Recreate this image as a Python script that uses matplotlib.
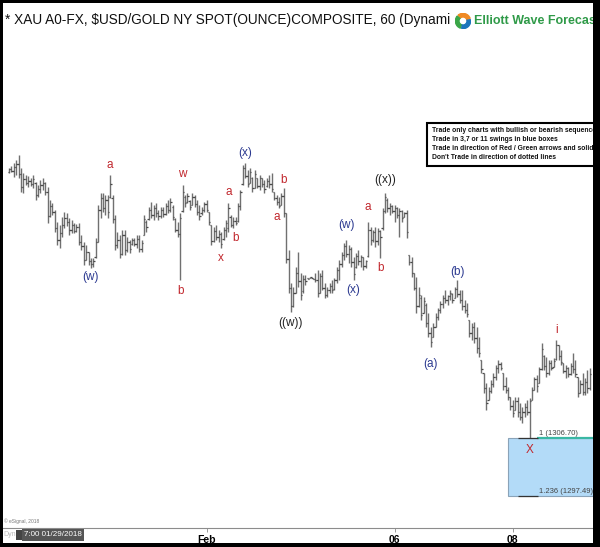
import matplotlib
matplotlib.use("Agg")
import matplotlib.pyplot as plt
from matplotlib.patches import Rectangle, Wedge
import numpy as np

plt.rcParams['font.family'] = ['Liberation Sans', 'DejaVu Sans']

# hourly XAU bars, 01/29/2018 07:00 onwards
highs = [
    1349.6, 1349.9, 1350.4, 1350.9, 1351.7, 1349.6, 1348.8, 1348.5, 1348.3, 1348.0,
    1348.5, 1347.4, 1346.9, 1347.7, 1348.0, 1347.4, 1346.6, 1344.5, 1344.0, 1342.9,
    1341.0, 1340.6, 1341.8, 1342.6, 1342.5, 1341.7, 1341.3, 1340.9, 1340.7, 1340.9,
    1338.9, 1337.9, 1337.4, 1336.3, 1335.3, 1335.3, 1338.5, 1343.7, 1345.6, 1345.6,
    1345.3, 1345.3, 1348.5, 1345.3, 1342.2, 1339.4, 1338.9, 1339.8, 1339.8, 1338.6,
    1338.2, 1338.5, 1338.5, 1338.9, 1338.9, 1338.2, 1342.2, 1341.3, 1343.4, 1344.2,
    1343.7, 1344.0, 1342.9, 1343.4, 1343.4, 1344.0, 1344.5, 1344.8, 1343.7, 1341.7,
    1341.0, 1342.5, 1346.9, 1345.3, 1345.6, 1344.5, 1345.6, 1345.3, 1344.5, 1343.7,
    1343.4, 1344.2, 1344.5, 1342.6, 1340.6, 1340.2, 1340.6, 1339.8, 1339.4, 1340.2,
    1341.3, 1344.0, 1342.2, 1341.8, 1341.8, 1344.0, 1346.1, 1350.1, 1350.4, 1349.3,
    1349.6, 1348.2, 1349.3, 1348.0, 1348.5, 1348.0, 1347.7, 1348.0, 1348.5, 1348.8,
    1345.8, 1345.3, 1345.0, 1345.6, 1346.4, 1342.5, 1336.6, 1331.3, 1330.7, 1333.9,
    1336.3, 1332.9, 1332.6, 1332.6, 1332.1, 1332.3, 1332.1, 1332.9, 1333.4, 1332.9,
    1333.4, 1331.3, 1330.7, 1331.3, 1331.8, 1332.1, 1333.9, 1335.0, 1336.3, 1337.7,
    1338.2, 1337.4, 1337.1, 1335.5, 1336.1, 1336.6, 1335.8, 1335.5, 1335.0, 1341.0,
    1340.2, 1339.8, 1340.2, 1340.1, 1339.8, 1343.3, 1345.6, 1344.8, 1344.0, 1343.7,
    1343.7, 1343.4, 1343.3, 1342.9, 1342.6, 1342.9, 1335.8, 1335.5, 1332.9, 1332.3,
    1330.7, 1329.4, 1329.1, 1328.2, 1326.6, 1324.3, 1324.9, 1326.6, 1327.4, 1328.4,
    1329.4, 1330.2, 1329.4, 1330.2, 1329.7, 1330.7, 1331.8, 1330.2, 1330.2, 1328.6,
    1328.2, 1325.4, 1324.9, 1325.1, 1324.3, 1322.7, 1319.1, 1317.0, 1315.4, 1314.8,
    1315.9, 1317.0, 1318.3, 1319.1, 1318.8, 1317.0, 1316.4, 1314.8, 1313.2, 1312.7,
    1313.2, 1313.2, 1312.2, 1311.6, 1312.2, 1312.7, 1313.1, 1314.8, 1316.4, 1316.7,
    1318.0, 1321.8, 1319.9, 1319.6, 1319.1, 1319.1, 1319.4, 1322.3, 1321.5, 1320.7,
    1318.6, 1318.3, 1318.0, 1318.6, 1320.2, 1319.1, 1316.4, 1315.9, 1317.0, 1316.2,
    1317.5, 1317.8,
]
lows = [
    1348.8, 1349.0, 1348.2, 1348.5, 1348.0, 1345.8, 1345.6, 1346.9, 1346.6, 1346.8,
    1346.4, 1344.5, 1345.0, 1345.6, 1346.1, 1345.3, 1340.9, 1341.8, 1342.2, 1339.4,
    1337.4, 1336.9, 1338.6, 1340.1, 1340.4, 1338.9, 1339.3, 1339.3, 1339.4, 1337.4,
    1336.6, 1334.2, 1335.0, 1334.2, 1333.7, 1333.9, 1335.3, 1337.9, 1341.7, 1342.6,
    1342.2, 1341.7, 1344.8, 1340.9, 1336.6, 1336.9, 1335.3, 1335.8, 1335.8, 1336.3,
    1336.1, 1337.4, 1337.2, 1336.9, 1336.3, 1336.3, 1338.9, 1339.4, 1341.3, 1341.7,
    1341.3, 1341.8, 1341.3, 1341.7, 1341.8, 1342.2, 1342.5, 1342.6, 1341.3, 1339.4,
    1338.6, 1331.8, 1342.6, 1343.4, 1344.0, 1342.9, 1343.7, 1343.4, 1342.2, 1341.3,
    1342.2, 1342.6, 1342.6, 1340.6, 1337.4, 1337.9, 1338.2, 1337.9, 1336.9, 1338.2,
    1338.6, 1339.4, 1340.2, 1340.1, 1340.6, 1341.0, 1342.9, 1346.9, 1348.0, 1346.6,
    1347.2, 1345.8, 1346.4, 1346.4, 1346.1, 1346.6, 1345.6, 1346.6, 1346.4, 1345.8,
    1344.5, 1343.7, 1343.3, 1343.7, 1341.8, 1334.5, 1329.7, 1326.7, 1327.5, 1329.7,
    1330.7, 1328.6, 1329.7, 1331.0, 1332.0, 1332.2, 1332.0, 1331.5, 1329.1, 1329.7,
    1330.2, 1328.9, 1329.1, 1329.7, 1329.7, 1330.2, 1331.3, 1331.8, 1333.9, 1335.0,
    1335.5, 1334.5, 1333.9, 1331.8, 1333.7, 1334.2, 1333.9, 1333.4, 1333.7, 1335.5,
    1337.4, 1337.9, 1337.1, 1337.4, 1335.3, 1339.8, 1342.5, 1342.6, 1342.2, 1342.5,
    1341.0, 1341.7, 1338.6, 1341.0, 1341.8, 1338.5, 1334.2, 1332.3, 1330.2, 1326.6,
    1327.5, 1325.4, 1326.6, 1324.3, 1322.7, 1321.2, 1322.7, 1324.3, 1325.4, 1326.6,
    1327.4, 1328.2, 1327.8, 1328.6, 1328.2, 1328.9, 1329.1, 1328.2, 1327.0, 1326.6,
    1325.9, 1322.7, 1322.3, 1321.8, 1320.2, 1319.6, 1317.0, 1313.8, 1311.1, 1312.7,
    1313.8, 1314.8, 1315.9, 1317.0, 1317.5, 1314.3, 1313.8, 1312.7, 1311.1, 1310.0,
    1311.1, 1310.0, 1309.5, 1309.0, 1310.0, 1310.3, 1306.7, 1312.7, 1314.3, 1314.0,
    1315.4, 1317.5, 1317.5, 1316.4, 1316.7, 1317.5, 1318.0, 1319.1, 1319.1, 1318.3,
    1317.0, 1316.2, 1316.4, 1316.7, 1317.0, 1316.4, 1313.2, 1313.8, 1313.5, 1313.5,
    1313.8, 1314.3,
]
opens = [
    1349.0, 1349.4, 1349.2, 1349.8, 1350.2, 1348.6, 1346.6, 1347.9, 1347.2, 1347.6,
    1347.0, 1347.2, 1345.3, 1346.3, 1346.9, 1347.2, 1345.8, 1342.0, 1343.6, 1342.6,
    1340.1, 1338.2, 1339.3, 1340.6, 1341.7, 1341.0, 1339.8, 1340.6, 1339.6, 1340.3,
    1337.9, 1337.2, 1335.0, 1336.3, 1334.8, 1334.3, 1335.5, 1337.9, 1343.0, 1344.8,
    1343.3, 1344.6, 1345.0, 1344.8, 1341.5, 1337.4, 1338.2, 1336.0, 1339.0, 1336.5,
    1337.9, 1337.6, 1338.1, 1337.5, 1338.4, 1336.8, 1339.0, 1341.0, 1341.5, 1342.9,
    1342.2, 1343.3, 1342.4, 1342.0, 1343.0, 1342.3, 1343.5, 1342.9, 1343.4, 1341.5,
    1339.8, 1339.2, 1342.8, 1345.0, 1344.2, 1344.4, 1343.8, 1345.0, 1343.9, 1342.7,
    1342.4, 1343.0, 1343.9, 1342.6, 1340.6, 1338.0, 1339.6, 1338.7, 1339.2, 1338.4,
    1339.8, 1340.0, 1341.8, 1340.6, 1341.2, 1341.2, 1343.6, 1347.0, 1349.6, 1348.4,
    1347.2, 1348.0, 1346.5, 1348.0, 1346.8, 1348.0, 1347.0, 1346.8, 1347.6, 1347.0,
    1345.8, 1344.8, 1344.2, 1343.8, 1345.2, 1342.4, 1335.2, 1330.6, 1327.6, 1329.8,
    1333.0, 1331.6, 1330.0, 1332.0, 1332.1, 1332.2, 1332.1, 1332.0, 1331.8, 1329.8,
    1332.4, 1330.6, 1329.4, 1330.2, 1330.9, 1330.4, 1331.8, 1333.4, 1334.4, 1335.8,
    1337.2, 1336.0, 1336.8, 1334.6, 1333.8, 1335.6, 1334.8, 1335.4, 1334.0, 1335.6,
    1339.8, 1338.2, 1339.4, 1338.0, 1339.6, 1340.0, 1342.8, 1344.6, 1343.2, 1343.6,
    1342.8, 1343.2, 1342.2, 1342.8, 1341.9, 1342.4, 1335.8, 1334.6, 1332.9, 1330.6,
    1327.6, 1329.0, 1326.6, 1327.8, 1325.0, 1323.4, 1322.8, 1324.4, 1326.0, 1327.0,
    1328.0, 1329.0, 1328.6, 1329.2, 1329.6, 1329.0, 1330.4, 1329.6, 1328.6, 1327.6,
    1327.0, 1325.4, 1323.4, 1324.4, 1322.6, 1321.0, 1319.1, 1317.0, 1314.6, 1312.8,
    1314.2, 1315.2, 1316.4, 1317.8, 1318.4, 1317.0, 1315.0, 1314.4, 1313.2, 1311.8,
    1311.2, 1312.6, 1310.8, 1310.0, 1310.8, 1311.6, 1310.8, 1312.8, 1314.4, 1316.0,
    1315.4, 1317.6, 1319.8, 1318.2, 1317.0, 1318.6, 1318.0, 1319.2, 1321.4, 1319.8,
    1318.6, 1317.4, 1317.8, 1316.8, 1318.2, 1317.6, 1316.4, 1313.8, 1315.2, 1314.0,
    1315.6, 1314.6,
]
closes = [
    1349.4, 1349.2, 1349.8, 1350.2, 1348.6, 1346.6, 1347.9, 1347.2, 1347.6, 1347.0,
    1347.8, 1345.3, 1346.3, 1346.9, 1347.2, 1345.8, 1342.0, 1343.6, 1342.6, 1340.1,
    1338.2, 1339.3, 1340.6, 1341.7, 1341.0, 1339.8, 1340.6, 1339.6, 1340.3, 1337.9,
    1337.2, 1335.0, 1336.3, 1334.8, 1334.3, 1334.9, 1337.9, 1343.0, 1344.8, 1343.3,
    1344.6, 1342.6, 1347.0, 1341.5, 1337.4, 1338.2, 1336.0, 1339.0, 1336.5, 1337.9,
    1336.8, 1338.1, 1337.5, 1338.4, 1336.8, 1337.7, 1341.5, 1340.2, 1342.9, 1342.2,
    1343.3, 1342.4, 1342.0, 1343.0, 1342.3, 1343.5, 1342.9, 1344.2, 1341.8, 1339.8,
    1339.2, 1341.6, 1345.8, 1344.0, 1345.2, 1343.4, 1345.0, 1343.9, 1342.7, 1342.0,
    1343.0, 1343.9, 1343.0, 1341.0, 1338.0, 1339.6, 1338.7, 1339.2, 1337.5, 1339.8,
    1340.8, 1343.2, 1340.6, 1341.2, 1340.9, 1343.6, 1345.8, 1349.6, 1348.4, 1347.0,
    1349.0, 1346.4, 1348.6, 1346.8, 1348.0, 1347.0, 1346.2, 1347.6, 1347.0, 1346.2,
    1344.8, 1344.2, 1343.6, 1345.2, 1342.4, 1335.2, 1330.6, 1327.6, 1329.8, 1333.0,
    1331.6, 1329.4, 1332.0, 1331.6, 1332.0, 1332.3, 1332.0, 1331.8, 1329.8, 1332.4,
    1330.6, 1329.4, 1330.2, 1330.9, 1330.2, 1331.8, 1333.4, 1334.4, 1335.8, 1337.2,
    1336.0, 1336.8, 1334.6, 1332.8, 1335.6, 1334.8, 1335.4, 1334.0, 1334.8, 1339.8,
    1338.2, 1339.4, 1338.0, 1339.6, 1338.6, 1342.8, 1345.0, 1343.2, 1343.6, 1342.8,
    1343.2, 1342.2, 1342.8, 1341.6, 1342.4, 1339.4, 1334.6, 1333.0, 1330.6, 1327.6,
    1329.4, 1326.2, 1328.4, 1325.0, 1323.4, 1322.0, 1324.4, 1326.0, 1327.0, 1328.0,
    1329.0, 1328.6, 1329.2, 1329.8, 1328.6, 1330.4, 1329.6, 1328.6, 1327.6, 1327.0,
    1326.4, 1323.4, 1324.4, 1322.6, 1321.0, 1320.2, 1317.6, 1314.6, 1312.2, 1314.2,
    1315.2, 1316.4, 1317.8, 1318.4, 1317.8, 1315.0, 1314.4, 1313.2, 1311.8, 1310.6,
    1312.6, 1310.8, 1310.0, 1310.8, 1311.6, 1310.8, 1312.6, 1314.4, 1316.0, 1315.0,
    1317.6, 1320.8, 1318.2, 1317.0, 1318.6, 1317.8, 1319.0, 1321.4, 1319.8, 1318.8,
    1317.4, 1317.8, 1316.8, 1318.2, 1317.6, 1316.8, 1313.8, 1315.2, 1314.0, 1315.6,
    1314.6, 1316.8,
]

date_bars = [82, 160, 209]
date_labels = ['Feb', '06', '08']

# (text, bar, anchor, colour, offset px)
wave_labels = [
    ('a', 42, 'high', 'red', 10), ('(w)', 34, 'low', 'blue', -9),
    ('w', 72, 'high', 'red', 11), ('b', 71, 'low', 'red', -11),
    ('x', 88, 'low', 'red', -10), ('a', 91, 'high', 'red', 11),
    ('b', 94, 'low', 'red', -13), ('(x)', 98, 'high', 'blue', 10),
    ('a', 111, 'low', 'red', -12), ('b', 114, 'high', 'red', 8),
    ('((w))', 117, 'low', 'black', -11), ('(w)', 140, 'high', 'blue', 15),
    ('(x)', 143, 'low', 'blue', -10), ('a', 149, 'high', 'red', 15),
    ('b', 154, 'low', 'red', -10), ('((x))', 156, 'high', 'black', 13),
    ('(a)', 175, 'low', 'blue', -17), ('(b)', 186, 'high', 'blue', 8),
    ('i', 227, 'high', 'red', 10), ('X', 216, 'low', 'red', -12),
]
label_colors = {'red': '#c1272d', 'blue': '#2b3990', 'black': '#222222'}

fib_levels = [1306.70, 1297.49]
fib_labels = ['1 (1306.70)', '1.236 (1297.49)']
box_start = 207

notes = [
    'Trade only charts with bullish or bearish sequence',
    'Trade in 3,7 or 11 swings in blue boxes',
    'Trade in direction of Red / Green arrows and solid',
    "Don't Trade in direction of dotted lines",
]

W, H = 600, 547
fig = plt.figure(figsize=(6, 5.47), dpi=100)


def fx(px):
    return px / W


def fy(py):
    return 1 - py / H


ax = fig.add_axes([fx(3), fy(528), 590 / W, 525 / H])
x_right = 242.3
ax.set_xlim(-2.49, x_right)
ax.set_ylim(1292.38, 1375.85)

idx = np.arange(len(highs))
ax.vlines(idx, lows, highs, color='#707070', lw=1.0)
ax.hlines(opens, idx - 0.55, idx, color='#4a4a4a', lw=0.9)
ax.hlines(closes, idx, idx + 0.55, color='#4a4a4a', lw=0.9)

# fib target box
ax.add_patch(Rectangle((box_start, fib_levels[1]), x_right - box_start + 5,
                       fib_levels[0] - fib_levels[1], facecolor='#b3dbf8',
                       edgecolor='#8aa3b8', lw=0.8))
ax.hlines(fib_levels[0], 219, x_right + 2, color='#3ab7a3', lw=1.6)
ax.hlines(fib_levels, 211, 219.5, color='#333333', lw=0.9)
for lvl, txt in zip(fib_levels, fib_labels):
    ax.annotate(txt, (219.8, lvl), xytext=(0, 4), textcoords='offset pixels',
                fontsize=5.5, color='#444444', va='center', ha='left')

for txt, bar, side, col, dy in wave_labels:
    yv = highs[bar] if side == 'high' else lows[bar]
    ax.annotate(txt, (bar, yv), xytext=(0, dy), textcoords='offset pixels',
                ha='center', va='center', fontsize=8.5, color=label_colors[col])

for s in ['top', 'left', 'right']:
    ax.spines[s].set_visible(False)
ax.spines['bottom'].set_color('#8c8c8c')
ax.spines['bottom'].set_linewidth(0.8)
ax.set_yticks([])
ax.set_xticks(date_bars)
ax.set_xticklabels(date_labels, fontsize=7.5, fontweight='bold')
ax.tick_params(axis='x', length=3, width=0.6, color='#8c8c8c', pad=2)

# title and logo
fig.text(fx(5), fy(20), '* XAU A0-FX, $USD/GOLD NY SPOT(OUNCE)COMPOSITE, 60 (Dynami',
         fontsize=9.85, va='center', ha='left', color='#111111')
lax = fig.add_axes([fx(455), fy(29), 16 / W, 16 / H])
lax.set_xlim(-1, 1)
lax.set_ylim(-1, 1)
lax.axis('off')
for a0, a1, c in [(20, 130, '#f08a24'), (140, 250, '#3aa648'), (260, 370, '#1b75bb')]:
    lax.add_patch(Wedge((0, 0), 0.95, a0, a1, width=0.45, color=c))
fig.text(fx(474), fy(21), 'Elliott Wave Forecast', fontsize=9, fontweight='bold',
         color='#2f9a48', va='center', ha='left')

# rules box
fig.add_artist(Rectangle((fx(427), fy(166)), 180 / W, 43 / H, transform=fig.transFigure,
                         facecolor='white', edgecolor='black', lw=1.5))
for k, line in enumerate(notes):
    fig.text(fx(432), fy(131 + k * 8.7), line, fontsize=4.9, fontweight='bold',
             va='center', ha='left', color='#111111')

# bottom-left stamps
fig.text(fx(4), fy(521), '\u00a9 eSignal, 2018', fontsize=3.5, color='#777777', va='center')
fig.text(fx(3), fy(535), 'Dyn', fontsize=5, color='#bbbbbb', va='center')
fig.add_artist(Rectangle((fx(16), fy(540)), 6 / W, 10 / H, transform=fig.transFigure,
                         facecolor='#444444', edgecolor='none'))
fig.text(fx(24), fy(535), '7:00 01/29/2018', fontsize=5.8, color='white', va='center',
         bbox=dict(boxstyle='square,pad=0.25', facecolor='#555555', edgecolor='none'))

# black frame
for r in [(0, 0, 600, 3), (0, 0, 3, 547), (593, 0, 7, 547), (0, 543, 600, 4)]:
    x0, y0, w, h = r
    fig.add_artist(Rectangle((fx(x0), fy(y0 + h)), w / W, h / H, transform=fig.transFigure,
                             facecolor='black', edgecolor='none', zorder=10))

fig.savefig('out.png', dpi=100)
